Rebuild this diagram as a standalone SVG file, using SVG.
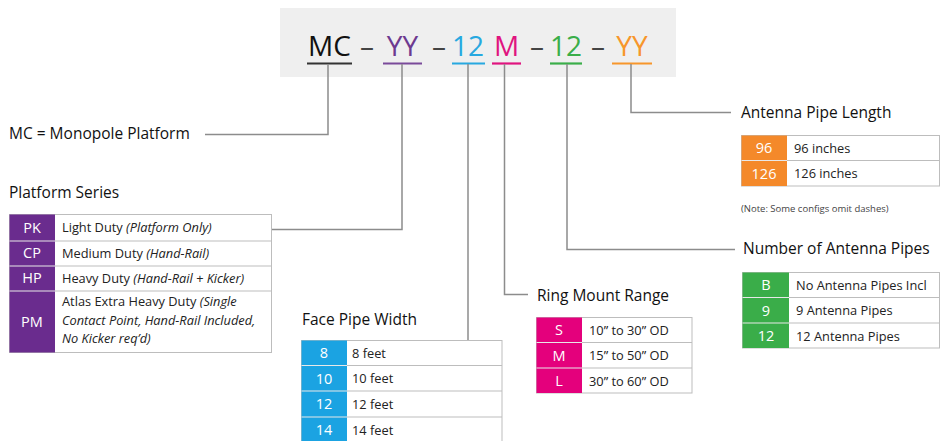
<svg xmlns="http://www.w3.org/2000/svg" width="940" height="441" viewBox="0 0 940 441">
<style>
text{font-family:"Open Sans","Noto Sans","Liberation Sans",sans-serif;}
.hd{font-size:28px;text-anchor:middle;}
.ttl{font-size:15.5px;fill:#111;font-weight:500;}
.row{font-size:12.8px;fill:#222;}
.code{font-size:14.5px;fill:#fff;text-anchor:middle;}
.it{font-style:italic;}
.cell{fill:#fff;stroke:#bdbdbd;stroke-width:1;}
.sep{stroke:#e8e8e8;stroke-width:1;}
.con{fill:none;stroke:#8c8c8c;stroke-width:1.5;}
.ul{stroke-width:2.2;}
</style>
<rect width="940" height="441" fill="#fff"/>
<g id="header">
<rect x="280" y="8" width="396" height="69" fill="#efefef"/>
<text class="hd" x="329.5" y="56" fill="#111">MC</text>
<text class="hd" x="367" y="56" fill="#444">–</text>
<text class="hd" x="402.5" y="56" fill="#6d3a90">YY</text>
<text class="hd" x="439" y="56" fill="#444">–</text>
<text class="hd" x="468" y="56" fill="#27a8e0">12</text>
<text class="hd" x="506.5" y="56" fill="#e0147f">M</text>
<text class="hd" x="537" y="56" fill="#444">–</text>
<text class="hd" x="566" y="56" fill="#3aae49">12</text>
<text class="hd" x="598" y="56" fill="#444">–</text>
<text class="hd" x="632" y="56" fill="#f7962b">YY</text>
<line class="ul" x1="307" y1="63.5" x2="352" y2="63.5" stroke="#333"/>
<line class="ul" x1="383" y1="63.5" x2="422" y2="63.5" stroke="#7a4a9a"/>
<line class="ul" x1="452" y1="63.5" x2="485" y2="63.5" stroke="#27a8e0"/>
<line class="ul" x1="492" y1="63.5" x2="521" y2="63.5" stroke="#e0147f"/>
<line class="ul" x1="550" y1="63.5" x2="582" y2="63.5" stroke="#3aae49"/>
<line class="ul" x1="612" y1="63.5" x2="652" y2="63.5" stroke="#f7962b"/>
</g>
<g id="connectors">
<polyline class="con" points="328,64 328,134.5 205,134.5"/>
<polyline class="con" points="402,64 402,229.5 272,229.5"/>
<polyline class="con" points="468,64 468,340"/>
<polyline class="con" points="504.5,64 504.5,294.5 528,294.5"/>
<polyline class="con" points="567,64 567,249.5 735,249.5"/>
<polyline class="con" points="631,64 631,112.5 731,112.5"/>
</g>
<g id="mc-label">
<text class="ttl" x="9" y="139">MC = Monopole Platform</text>
</g>
<g id="platform-series">
<text class="ttl" x="9" y="198">Platform Series</text>
<rect class="cell" x="9.5" y="214.5" width="262" height="138"/>
<line x1="55" y1="241" x2="272" y2="241" stroke="#bdbdbd"/>
<line x1="55" y1="266" x2="272" y2="266" stroke="#bdbdbd"/>
<line x1="55" y1="291" x2="272" y2="291" stroke="#bdbdbd"/>
<rect x="9.5" y="214.5" width="45.5" height="138" fill="#6a2c8e"/>
<line class="sep" x1="9.5" y1="241" x2="55" y2="241"/>
<line class="sep" x1="9.5" y1="266" x2="55" y2="266"/>
<line class="sep" x1="9.5" y1="291" x2="55" y2="291"/>
<text class="code" x="32" y="232.5">PK</text>
<text class="code" x="32" y="258">CP</text>
<text class="code" x="32" y="283">HP</text>
<text class="code" x="32" y="327">PM</text>
<text class="row" x="62" y="232">Light Duty <tspan class="it">(Platform Only)</tspan></text>
<text class="row" x="62" y="258">Medium Duty <tspan class="it">(Hand-Rail)</tspan></text>
<text class="row" x="62" y="283">Heavy Duty <tspan class="it">(Hand-Rail + Kicker)</tspan></text>
<text class="row" x="62" y="306">Atlas Extra Heavy Duty <tspan class="it">(Single</tspan></text>
<text class="row it" x="62" y="324.5">Contact Point, Hand-Rail Included,</text>
<text class="row it" x="62" y="343">No Kicker req’d)</text>
</g>
<g id="face-pipe-width">
<text class="ttl" x="302" y="325">Face Pipe Width</text>
<rect class="cell" x="301.5" y="340.5" width="200.5" height="103"/>
<line x1="347" y1="365.5" x2="502" y2="365.5" stroke="#bdbdbd"/>
<line x1="347" y1="391" x2="502" y2="391" stroke="#bdbdbd"/>
<line x1="347" y1="417" x2="502" y2="417" stroke="#bdbdbd"/>
<rect x="301.5" y="340.5" width="45.5" height="103" fill="#1ba3e2"/>
<line class="sep" x1="301.5" y1="365.5" x2="347" y2="365.5"/>
<line class="sep" x1="301.5" y1="391" x2="347" y2="391"/>
<line class="sep" x1="301.5" y1="417" x2="347" y2="417"/>
<text class="code" x="324" y="358">8</text>
<text class="code" x="324" y="383.5">10</text>
<text class="code" x="324" y="409">12</text>
<text class="code" x="324" y="435">14</text>
<text class="row" x="352" y="357.5">8 feet</text>
<text class="row" x="352" y="383">10 feet</text>
<text class="row" x="352" y="408.5">12 feet</text>
<text class="row" x="352" y="434.5">14 feet</text>
</g>
<g id="ring-mount-range">
<text class="ttl" x="537" y="301">Ring Mount Range</text>
<rect class="cell" x="536.5" y="317.5" width="155.5" height="75.5"/>
<line x1="582" y1="342.5" x2="692" y2="342.5" stroke="#bdbdbd"/>
<line x1="582" y1="368" x2="692" y2="368" stroke="#bdbdbd"/>
<rect x="536.5" y="317.5" width="45.5" height="75.5" fill="#e4007c"/>
<line class="sep" x1="536.5" y1="342.5" x2="582" y2="342.5"/>
<line class="sep" x1="536.5" y1="368" x2="582" y2="368"/>
<text class="code" x="559" y="335">S</text>
<text class="code" x="559" y="360.5">M</text>
<text class="code" x="559" y="386">L</text>
<text class="row" x="589" y="334.5">10” to 30” OD</text>
<text class="row" x="589" y="360">15” to 50” OD</text>
<text class="row" x="589" y="385.5">30” to 60” OD</text>
</g>
<g id="antenna-pipe-length">
<text class="ttl" x="741" y="118">Antenna Pipe Length</text>
<rect class="cell" x="741.5" y="135.5" width="198" height="50.5"/>
<line x1="787" y1="160.5" x2="940" y2="160.5" stroke="#bdbdbd"/>
<rect x="741.5" y="135.5" width="45.5" height="50.5" fill="#f4892a"/>
<line class="sep" x1="741.5" y1="160.5" x2="787" y2="160.5"/>
<text class="code" x="764" y="153">96</text>
<text class="code" x="764" y="178.5">126</text>
<text class="row" x="794" y="152.5">96 inches</text>
<text class="row" x="794" y="178">126 inches</text>
<text x="741" y="212" font-size="9.5" fill="#444">(Note: Some configs omit dashes)</text>
</g>
<g id="number-of-antenna-pipes">
<text class="ttl" x="743" y="254">Number of Antenna Pipes</text>
<rect class="cell" x="742.5" y="272.5" width="197" height="75.5"/>
<line x1="789" y1="297.5" x2="940" y2="297.5" stroke="#bdbdbd"/>
<line x1="789" y1="323" x2="940" y2="323" stroke="#bdbdbd"/>
<rect x="742.5" y="272.5" width="46.5" height="75.5" fill="#3aad49"/>
<line class="sep" x1="742.5" y1="297.5" x2="789" y2="297.5"/>
<line class="sep" x1="742.5" y1="323" x2="789" y2="323"/>
<text class="code" x="766" y="290">B</text>
<text class="code" x="766" y="315.5">9</text>
<text class="code" x="766" y="341">12</text>
<text class="row" x="796" y="289.5">No Antenna Pipes Incl</text>
<text class="row" x="796" y="315">9 Antenna Pipes</text>
<text class="row" x="796" y="340.5">12 Antenna Pipes</text>
</g>
</svg>
